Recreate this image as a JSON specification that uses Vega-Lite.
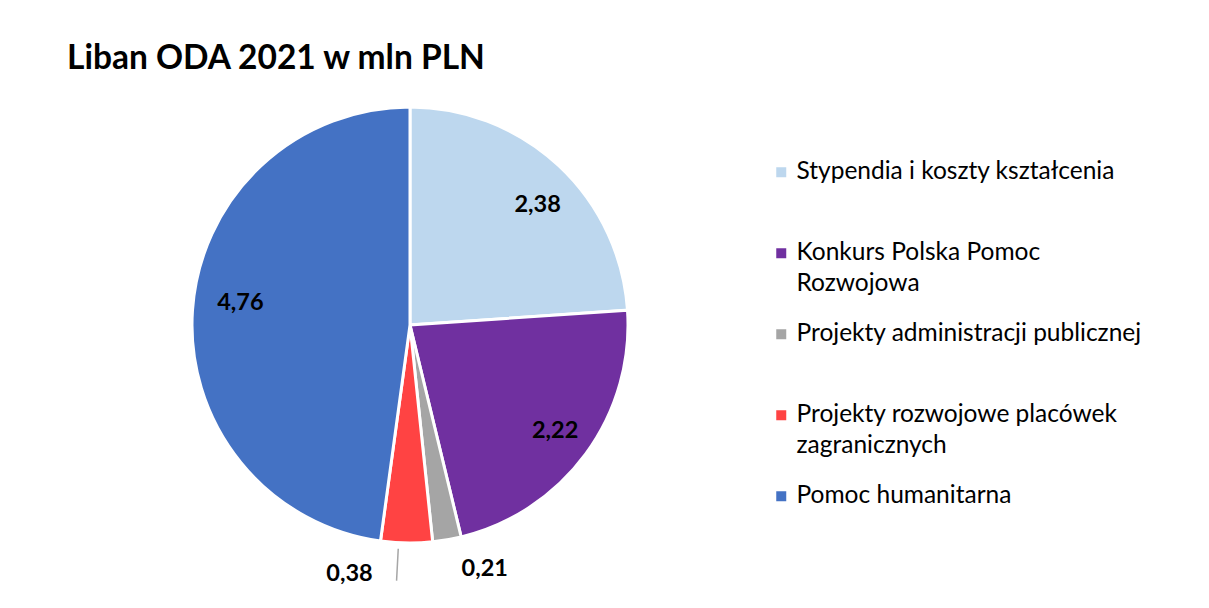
{
  "$schema": "https://vega.github.io/schema/vega-lite/v6.json",
  "width": 560,
  "height": 500,
  "autosize": {"type": "none"},
  "padding": {"left": 130, "top": 75, "right": 519, "bottom": 33},
  "background": "white",
  "config": {"view": {"stroke": null}, "font": "Lato", "style": {"guide-label": {"lineHeight": 31}}},
  "title": {
    "text": "Liban ODA 2021 w mln PLN",
    "anchor": "start",
    "frame": "group",
    "dx": -63,
    "offset": -27,
    "baseline": "alphabetic",
    "font": "Lato",
    "fontSize": 33.5,
    "fontWeight": "bold",
    "color": "#000000"
  },
  "data": {
    "values": [
      {"kategoria": "Stypendia i koszty kształcenia", "wartosc": 2.38, "etykieta": "2,38", "kolejnosc": 1},
      {"kategoria": "Konkurs Polska Pomoc Rozwojowa", "wartosc": 2.22, "etykieta": "2,22", "kolejnosc": 2},
      {"kategoria": "Projekty administracji publicznej", "wartosc": 0.21, "etykieta": "0,21", "kolejnosc": 3},
      {"kategoria": "Projekty rozwojowe placówek zagranicznych", "wartosc": 0.38, "etykieta": "0,38", "kolejnosc": 4},
      {"kategoria": "Pomoc humanitarna", "wartosc": 4.76, "etykieta": "4,76", "kolejnosc": 5}
    ]
  },
  "encoding": {
    "theta": {"field": "wartosc", "type": "quantitative", "stack": true},
    "order": {"field": "kolejnosc", "type": "quantitative"}
  },
  "layer": [
    {
      "mark": {"type": "arc", "radius": 218, "stroke": "white", "strokeWidth": 3},
      "encoding": {
        "color": {
          "field": "kategoria",
          "type": "nominal",
          "sort": null,
          "scale": {
            "domain": ["Stypendia i koszty kształcenia", "Konkurs Polska Pomoc Rozwojowa", "Projekty administracji publicznej", "Projekty rozwojowe placówek zagranicznych", "Pomoc humanitarna"],
            "range": ["#BDD7EE", "#7030A0", "#A5A5A5", "#FF4343", "#4472C4"]
          },
          "legend": {
            "orient": "none",
            "legendX": 639,
            "legendY": 85,
            "title": null,
            "padding": 0,
            "symbolType": "square",
            "symbolSize": 100,
            "symbolStrokeWidth": 0,
            "labelFont": "Lato",
            "labelFontSize": 24.5,
            "labelColor": "#000000",
            "labelLimit": 600,
            "labelOffset": 3,
            "rowPadding": 25,
            "labelExpr": "datum.label == 'Konkurs Polska Pomoc Rozwojowa' ? ['Konkurs Polska Pomoc', 'Rozwojowa'] : datum.label == 'Projekty rozwojowe placówek zagranicznych' ? ['Projekty rozwojowe placówek', 'zagranicznych'] : [datum.label, '']",
            "encode": {"labels": {"update": {"dy": {"value": 15.5}, "lineHeight": {"value": 31}}}}
          }
        }
      }
    },
    {
      "mark": {"type": "arc", "radius": 256, "radius2": 224, "thetaOffset": 0.0367, "padAngle": 1, "fill": null, "stroke": "#A6A6A6", "strokeWidth": 1.5},
      "encoding": {
        "opacity": {"condition": {"test": "datum.kolejnosc == 4", "value": 1}, "value": 0}
      }
    },
    {
      "mark": {"type": "text", "radius": 175, "thetaOffset": 0.066, "font": "Lato", "fontSize": 23.5, "fontWeight": "bold", "color": "#000000"},
      "encoding": {
        "text": {"condition": {"test": "datum.kolejnosc == 1", "field": "etykieta"}, "value": ""}
      }
    },
    {
      "mark": {"type": "text", "radius": 180, "font": "Lato", "fontSize": 23.5, "fontWeight": "bold", "color": "#000000"},
      "encoding": {
        "text": {"condition": {"test": "datum.kolejnosc == 2", "field": "etykieta"}, "value": ""}
      }
    },
    {
      "mark": {"type": "text", "radius": 171, "thetaOffset": 0.061, "font": "Lato", "fontSize": 23.5, "fontWeight": "bold", "color": "#000000"},
      "encoding": {
        "text": {"condition": {"test": "datum.kolejnosc == 5", "field": "etykieta"}, "value": ""}
      }
    },
    {
      "mark": {"type": "text", "radius": 255, "thetaOffset": -0.127, "font": "Lato", "fontSize": 23.5, "fontWeight": "bold", "color": "#000000"},
      "encoding": {
        "text": {"condition": {"test": "datum.kolejnosc == 3", "field": "etykieta"}, "value": ""}
      }
    },
    {
      "mark": {"type": "text", "radius": 256, "thetaOffset": 0.223, "font": "Lato", "fontSize": 23.5, "fontWeight": "bold", "color": "#000000"},
      "encoding": {
        "text": {"condition": {"test": "datum.kolejnosc == 4", "field": "etykieta"}, "value": ""}
      }
    }
  ]
}
